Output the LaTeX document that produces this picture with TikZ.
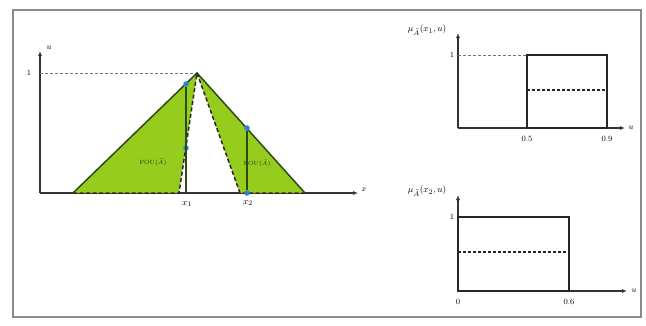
\documentclass[tikz,border=0pt]{standalone}
\usetikzlibrary{arrows.meta}
\definecolor{fougreen}{RGB}{150,204,30}
\definecolor{edgegreen}{RGB}{45,75,25}
\definecolor{dotblue}{RGB}{40,130,210}
\begin{document}
\begin{tikzpicture}[x=1pt,y=-1pt,
  frame/.style={draw=black!45, line width=1.6pt},
  axis/.style={draw=black!80, line width=1.1pt, -{Latex[length=5pt,width=4pt]}},
  helper/.style={draw=black!55, densely dashed, line width=0.5pt},
  outer/.style={draw=edgegreen, line width=1.5pt},
  inner/.style={draw=black!85, dashed, dash pattern=on 4pt off 2.5pt, line width=1.5pt},
  cut/.style={draw=edgegreen, line width=1.4pt},
  bluedot/.style={circle, fill=dotblue, inner sep=0pt, minimum size=5.5pt},
  rect/.style={draw=black!85, line width=1.3pt},
  rdash/.style={draw=black!85, dashed, dash pattern=on 3pt off 2pt, line width=1.1pt},
  lbl/.style={font=\fontsize{8}{9}\selectfont, inner sep=1pt},
  big/.style={font=\fontsize{9.5}{10}\selectfont, inner sep=1pt},
  fou/.style={font=\fontsize{6}{7}\selectfont, text=edgegreen!80!black, inner sep=0pt}]
\useasboundingbox (0,0) rectangle (646,325);
\draw[frame] (13,10) rectangle (641,317);

% ---------- left plot ----------
\coordinate (O) at (40,193);
\coordinate (Ytop) at (40,51);
\coordinate (Xend) at (358,193);
\coordinate (One) at (40,73);
\coordinate (L) at (73,193);
\coordinate (P) at (197,73);
\coordinate (R) at (305,193);
\coordinate (Li) at (179,193);
\coordinate (Ri) at (240,193);
\draw[axis] (O) -- (Ytop);
\draw[axis] (O) -- (Xend);
\draw[helper] (One) -- (P);
\fill[fougreen] (L) -- (P) -- (Li) -- cycle;
\fill[fougreen] (P) -- (R) -- (Ri) -- cycle;
\draw[outer] (L) -- (P) -- (R);
\draw[inner] (L) -- (Li) -- (P) -- (Ri) -- (R);
\node[bluedot] (a1) at (186,84) {};
\node[bluedot] (a2) at (186,148) {};
\node[bluedot] (b1) at (247,128) {};
\node[bluedot] (b2) at (247,193) {};
\coordinate (x1b) at (186,193);
\draw[cut] (a1) -- (x1b);
\draw[cut] (b1) -- (b2);
\node[lbl] (ulbl) at (49,48) {$u$};
\node[lbl] (onelbl) at (29,73) {1};
\node[lbl] (xlbl) at (364,190) {$x$};
\node[big] (x1lbl) at (187,204) {$x_1$};
\node[big] (x2lbl) at (248,203) {$x_2$};
\node[fou] (fouL) at (153,162) {FOU($\tilde{A}$)};
\node[fou] (fouR) at (257,163) {FOU($\tilde{A}$)};

% ---------- top right plot ----------
\coordinate (O1) at (458,128);
\coordinate (Y1) at (458,33);
\coordinate (X1) at (625,128);
\draw[axis] (O1) -- (Y1);
\draw[axis] (O1) -- (X1);
\coordinate (h1) at (458,55);
\coordinate (r1a) at (527,55);
\coordinate (r1b) at (607,128);
\draw[helper] (h1) -- (r1a);
\draw[rect] (r1a |- O1) rectangle (r1b |- r1a);
\coordinate (d1a) at (527,90);
\coordinate (d1b) at (607,90);
\draw[rdash] (d1a) -- (d1b);
\node[lbl] (t1one) at (452,55) {1};
\node[lbl] (t1a) at (527,139) {0.5};
\node[lbl] (t1b) at (607,139) {0.9};
\node[lbl] (t1u) at (631,128) {$u$};
\node[big] (t1y) at (427,30) {$\mu_{\tilde{A}}(x_1,u)$};

% ---------- bottom right plot ----------
\coordinate (O2) at (458,291);
\coordinate (Y2) at (458,195);
\coordinate (X2) at (627,291);
\draw[axis] (O2) -- (Y2);
\draw[axis] (O2) -- (X2);
\coordinate (r2a) at (458,217);
\coordinate (r2b) at (569,291);
\draw[rect] (r2a) rectangle (r2b);
\coordinate (d2a) at (458,252);
\coordinate (d2b) at (569,252);
\draw[rdash] (d2a) -- (d2b);
\node[lbl] (t2one) at (452,217) {1};
\node[lbl] (t2a) at (458,302) {0};
\node[lbl] (t2b) at (569,302) {0.6};
\node[lbl] (t2u) at (634,291) {$u$};
\node[big] (t2y) at (427,191) {$\mu_{\tilde{A}}(x_2,u)$};
\end{tikzpicture}
\end{document}
